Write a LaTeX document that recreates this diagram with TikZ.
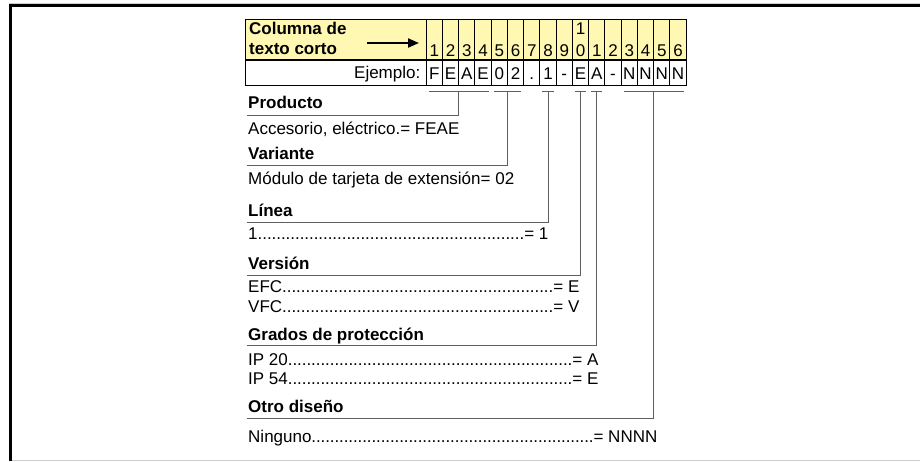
\documentclass[tikz,border=0pt]{standalone}
\usepackage{fontspec}
\setmainfont{Liberation Sans}
\usetikzlibrary{arrows.meta,positioning,calc}
\definecolor{hdryellow}{RGB}{255,248,178}
\definecolor{rulegray}{RGB}{95,95,95}
\definecolor{framegray}{RGB}{205,205,205}
\newcommand{\dotrow}[3]{\hbox to #1{#2\xleaders\hbox to 4.6pt{\hss.\hss}\hfill#3}}

\begin{document}
\begin{tikzpicture}[x=1pt,y=-1pt,
  cell/.style={draw,minimum width=16.25pt,inner sep=0pt,anchor=north west,line width=0.8pt},
  hd/.style={cell,fill=hdryellow,minimum height=40pt},
  ex/.style={cell,fill=white,minimum height=25pt},
  txt/.style={anchor=base west,inner sep=0pt,font=\fontsize{17}{20}\selectfont},
  ttl/.style={txt,font=\fontsize{17}{20}\selectfont\bfseries},
  ln/.style={draw=rulegray,line width=0.9pt}]
\useasboundingbox (0,0) rectangle (920,461);
% frame
\draw[framegray,line width=1pt] (9,3) -- (920,3);
\draw[line width=2.6pt] (9,5.4) -- (920,5.4);
\draw[line width=2.8pt] (10.5,4.2) -- (10.5,461);
\draw[framegray,line width=1pt] (12,460.5) -- (920,460.5);
% table
\node[hd,minimum width=180.7pt] (hlab) at (245,19) {};
\node[ex,minimum width=180.7pt] (elab) at (hlab.south west) {};
\node[ttl] (col1) at (249,34) {Columna de};
\node[ttl] (col2) at (249,54.3) {texto corto};
\coordinate (arrs) at (367,43);
\coordinate (arre) at (419,43);
\draw[-{Triangle[length=11pt,width=9pt]},line width=2pt] (arrs) -- (arre);
\node[txt,anchor=base east] (ejem) at (420.5,78) {Ejemplo:};
\foreach \v [count=\i] in {F,E,A,E,0,2,.,1,-,E,A,-,N,N,N,N}{
  \node[hd] (h\i) at ({425.7+(\i-1)*16.25},19) {};
  \node[ex] (e\i) at (h\i.south west) {};
  \pgfmathtruncatemacro\d{mod(\i,10)}
  \node[txt,anchor=base] (n\i) at ($(h\i.south)+(0,-3)$) {\d};
  \node[txt,anchor=base] (v\i) at ($(e\i.south)+(0,-6)$) {\v};
}
\node[txt,anchor=base] (n10a) at ($(h10.north)+(0,15)$) {1};
% brackets
\foreach \a/\b/\n/\u in {1/4/1/115,5/6/2/165,8/8/3/222.3,10/10/4/275,11/11/5/345.7,13/16/6/418.3}{
  \coordinate (bl\n) at ($(e\a.south west)+(3,6)$);
  \coordinate (br\n) at ($(e\b.south east)+(-3,6)$);
  \coordinate (bm\n) at ($(bl\n)!0.5!(br\n)$);
  \coordinate (u\n) at (247,\u);
  \draw[ln] (bl\n) -- (br\n);
  \draw[ln] (bm\n) |- (u\n);
}
% sections
\node[ttl] (prod) at (248,108.3) {Producto};
\node[txt] (prodA) at (248,134.3) {Accesorio, eléctrico.= FEAE};
\node[ttl] (vari) at (248,159.5) {Variante};
\node[txt] (variA) at (248,184) {Módulo de tarjeta de extensión= 02};
\node[ttl] (line) at (248,216) {Línea};
\node[txt] (lineA) at (248,239.3) {\dotrow{300pt}{1}{= 1}};
\node[ttl] (vers) at (248,269) {Versión};
\node[txt] (versA) at (248,292.7) {\dotrow{331pt}{EFC}{= E}};
\node[txt] (versB) at (248,312.3) {\dotrow{331pt}{VFC}{= V}};
\node[ttl] (grad) at (248,340.7) {Grados de protección};
\node[txt] (gradA) at (248,365) {\dotrow{350pt}{IP 20}{= A}};
\node[txt] (gradB) at (248,384.3) {\dotrow{350pt}{IP 54}{= E}};
\node[ttl] (otro) at (248,412.7) {Otro diseño};
\node[txt] (otroA) at (248,442.3) {\dotrow{409pt}{Ninguno}{= NNNN}};
\end{tikzpicture}
\end{document}
